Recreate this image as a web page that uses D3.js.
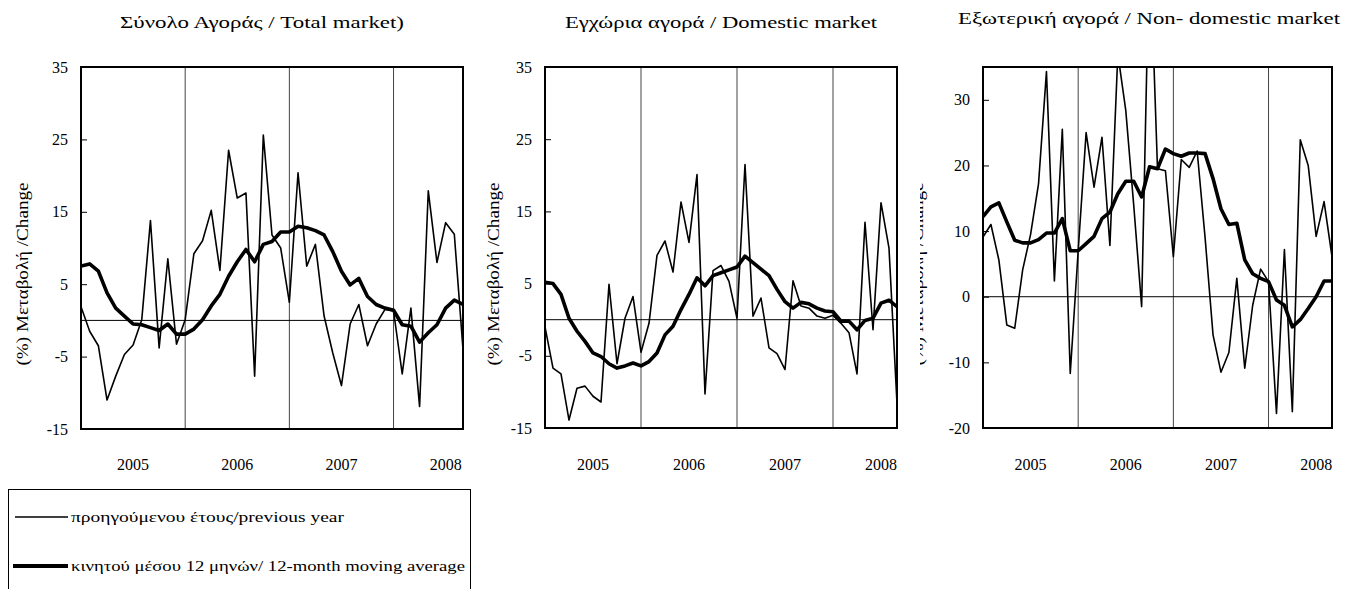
<!DOCTYPE html>
<html>
<head>
  <meta charset="utf-8">
  <script src="https://d3js.org/d3.v7.min.js"></script>
  <style>
    body { margin: 0; background: #fff; }
  </style>
</head>
<body>

<div id="chart"></div>

<script>

  // months Jan 2005 .. Sep 2008
  var years = ['2005', '2006', '2007', '2008'];
  var months = [];
  years.forEach(function(y){
    for (var m = 1; m <= 12; m++) { if (months.length < 45) months.push(y + '-' + (m < 10 ? '0' + m : m)); }
  });

  var titles = ['Σύνολο Αγοράς / Total market)', 'Εγχώρια αγορά / Domestic market', 'Εξωτερική αγορά / Non- domestic market'];
  var yLabel = '(%) Μεταβολή /Change';
  var legendLabels = ['προηγούμενου έτους/previous year', 'κινητού μέσου 12 μηνών/ 12-month moving average'];

  var ticksA = [-15, -5, 5, 15, 25, 35];
  var ticksB = [-20, -10, 0, 10, 20, 30];

  // Total market
  var totalYoY = [1.9, -1.5, -3.5, -11.0, -7.7, -4.7, -3.4, 0.1, 13.8, -3.8, 8.5, -3.3,
                  0.1, 9.2, 11.0, 15.2, 6.9, 23.5, 16.9, 17.6, -7.7, 25.6, 11.8, 10.0,
                  2.5, 20.4, 7.5, 10.5, 0.6, -4.5, -9.0, -0.5, 2.2, -3.5, -0.5, 1.5,
                  1.3, -7.4, 1.7, -11.9, 17.9, 8.0, 13.5, 11.9, -4.0];
  var totalMA = [7.5, 7.8, 6.8, 3.8, 1.7, 0.6, -0.5, -0.6, -1.0, -1.4, -0.5, -1.9,
                 -1.9, -1.2, 0.1, 2.0, 3.6, 6.1, 8.1, 9.8, 8.1, 10.5, 10.9, 12.2,
                 12.2, 13.0, 12.8, 12.4, 11.8, 9.5, 6.8, 4.9, 5.8, 3.3, 2.2, 1.7,
                 1.4, -0.6, -0.8, -3.0, -1.7, -0.6, 1.7, 2.8, 2.2];

  // Domestic market
  var domYoY = [-1.0, -6.7, -7.5, -13.9, -9.5, -9.2, -10.6, -11.4, 4.9, -6.1, 0.2, 3.2,
                -4.5, -0.5, 8.9, 10.9, 6.6, 16.3, 10.7, 20.1, -10.3, 6.8, 7.5, 5.3,
                0.2, 21.5, 0.5, 3.0, -3.9, -4.7, -6.9, 5.4, 1.9, 1.6, 0.5, 0.2,
                0.6, -0.5, -1.8, -7.5, 13.5, -1.4, 16.2, 9.9, -11.6];
  var domMA = [5.2, 5.0, 3.5, 0.2, -1.6, -3.0, -4.6, -5.1, -6.1, -6.7, -6.4, -6.0,
               -6.4, -5.8, -4.6, -2.1, -0.9, 1.4, 3.5, 5.8, 4.7, 6.1, 6.5, 6.9,
               7.3, 8.8, 7.9, 7.0, 6.1, 4.2, 2.5, 1.6, 2.4, 2.2, 1.6, 1.2,
               1.1, -0.2, -0.2, -1.4, -0.1, 0.2, 2.3, 2.7, 1.8];

  // Non-domestic market
  var nonDomYoY = [9.1, 11.0, 5.6, -4.3, -4.8, 4.1, 9.5, 17.2, 34.3, 2.4, 25.5, -11.7,
                   7.0, 25.0, 16.7, 24.3, 7.8, 37.0, 28.4, 14.0, -1.5, 55.0, 19.5, 19.2,
                   6.1, 20.9, 19.7, 22.2, 9.0, -5.8, -11.5, -8.5, 2.8, -10.9, -1.3, 4.2,
                   2.3, -17.8, 7.2, -17.5, 23.9, 20.0, 9.2, 14.5, 6.1];
  var nonDomMA = [12.2, 13.7, 14.3, 11.4, 8.6, 8.2, 8.2, 8.7, 9.7, 9.7, 11.9, 7.0,
                  7.0, 8.1, 9.2, 11.9, 12.9, 15.7, 17.6, 17.6, 15.2, 19.8, 19.5, 22.5,
                  21.8, 21.4, 21.9, 21.9, 21.8, 18.0, 13.4, 11.0, 11.2, 5.6, 3.5, 2.8,
                  2.3, -0.5, -1.3, -4.6, -3.5, -1.8, 0.0, 2.4, 2.4];

  var FONT = '"Liberation Serif", "Times New Roman", serif';

  var panels = [
    {title: titles[0], tx: 262, ty: 28, tw: 284, yoy: totalYoY, ma: totalMA, dom: [-15, 35], ticks: ticksA,
     x0: 81, x1: 463, y0: 67, y1: 429, lx: 28},
    {title: titles[1], tx: 721, ty: 28, tw: 312, yoy: domYoY, ma: domMA, dom: [-15, 35], ticks: ticksA,
     x0: 545, x1: 897, y0: 67, y1: 428, lx: 499},
    {title: titles[2], tx: 1149, ty: 24, tw: 382, yoy: nonDomYoY, ma: nonDomMA, dom: [-20, 35], ticks: ticksB,
     x0: 983, x1: 1332, y0: 67, y1: 428, lx: 923, clipLeft: 920}
  ];

  var svg = d3.select('#chart').append('svg')
    .attr('width', 1345)
    .attr('height', 589)
    .attr('font-family', FONT);

  var defs = svg.append('defs');

  panels.forEach(function(p, k){
    var x = d3.scaleLinear().domain([0, months.length - 1]).range([p.x0, p.x1]);
    var y = d3.scaleLinear().domain(p.dom).range([p.y1, p.y0]);

    var g = svg.append('g');

    if (p.clipLeft) {
      defs.append('clipPath').attr('id', 'panelclip' + k)
        .append('rect').attr('x', p.clipLeft).attr('y', 0).attr('width', 1345 - p.clipLeft).attr('height', 589);
      g.attr('clip-path', 'url(#panelclip' + k + ')');
    }

    defs.append('clipPath').attr('id', 'plotclip' + k)
      .append('rect').attr('x', p.x0).attr('y', p.y0).attr('width', p.x1 - p.x0).attr('height', p.y1 - p.y0);

    // title
    g.append('text')
      .attr('x', p.tx).attr('y', p.ty)
      .attr('text-anchor', 'middle')
      .attr('font-family', FONT).attr('font-size', 17)
      .attr('textLength', p.tw).attr('lengthAdjust', 'spacingAndGlyphs')
      .text(p.title);

    // y axis label
    g.append('text')
      .attr('transform', 'translate(' + p.lx + ',274) rotate(-90)')
      .attr('text-anchor', 'middle')
      .attr('font-family', FONT).attr('font-size', 16)
      .attr('textLength', 183).attr('lengthAdjust', 'spacingAndGlyphs')
      .text(yLabel);

    // year separators
    g.selectAll('line.year').data([12, 24, 36]).enter().append('line')
      .attr('class', 'year')
      .attr('x1', function(d){ return x(d); }).attr('x2', function(d){ return x(d); })
      .attr('y1', p.y0).attr('y2', p.y1)
      .attr('stroke', '#444').attr('stroke-width', 1);

    // zero line
    g.append('line')
      .attr('x1', p.x0).attr('x2', p.x1)
      .attr('y1', y(0)).attr('y2', y(0))
      .attr('stroke', '#000').attr('stroke-width', 1);

    // y axis, ticks pointing inward
    var axis = d3.axisRight(y).tickValues(p.ticks).tickSize(6).tickFormat('');
    g.append('g')
      .attr('transform', 'translate(' + p.x0 + ',0)')
      .call(axis)
      .call(function(a){ a.select('.domain').remove(); a.selectAll('line').attr('stroke', '#000'); });

    g.selectAll('text.ytick').data(p.ticks).enter().append('text')
      .attr('class', 'ytick')
      .attr('x', p.x0 - 13)
      .attr('y', function(d){ return y(d); })
      .attr('dy', '0.35em')
      .attr('text-anchor', 'end')
      .attr('font-family', FONT).attr('font-size', 16)
      .text(function(d){ return d; });

    // year labels, centred in each year
    g.selectAll('text.year').data(years).enter().append('text')
      .attr('class', 'year')
      .attr('x', function(d, i){ return x(i * 12 + 6); })
      .attr('y', 470)
      .attr('text-anchor', 'middle')
      .attr('font-family', FONT).attr('font-size', 16)
      .text(function(d){ return d; });

    var line = d3.line()
      .x(function(d, i){ return x(i); })
      .y(function(d){ return y(d); });

    var series = g.append('g').attr('clip-path', 'url(#plotclip' + k + ')');

    series.append('path')
      .datum(p.yoy)
      .attr('d', line)
      .attr('fill', 'none')
      .attr('stroke', '#000')
      .attr('stroke-width', 1.6)
      .attr('stroke-linejoin', 'round');

    series.append('path')
      .datum(p.ma)
      .attr('d', line)
      .attr('fill', 'none')
      .attr('stroke', '#000')
      .attr('stroke-width', 3.6)
      .attr('stroke-linejoin', 'round');

    // plot frame
    g.append('rect')
      .attr('x', p.x0).attr('y', p.y0)
      .attr('width', p.x1 - p.x0).attr('height', p.y1 - p.y0)
      .attr('fill', 'none')
      .attr('stroke', '#000')
      .attr('stroke-width', 2);
  });

  // legend
  var legend = svg.append('g');

  legend.append('rect')
    .attr('x', 8.5).attr('y', 489.5)
    .attr('width', 462).attr('height', 120)
    .attr('fill', 'none').attr('stroke', '#000').attr('stroke-width', 1);

  var legendRows = legend.selectAll('g.row').data(legendLabels).enter().append('g')
    .attr('class', 'row')
    .attr('transform', function(d, i){ return 'translate(0,' + (517 + i * 49) + ')'; });

  legendRows.append('line')
    .attr('x1', function(d, i){ return i ? 13 : 15; }).attr('x2', 68)
    .attr('y1', 0).attr('y2', 0)
    .attr('stroke', '#000')
    .attr('stroke-width', function(d, i){ return i ? 4 : 1.4; });

  legendRows.append('text')
    .attr('x', 71).attr('y', 0)
    .attr('dy', '0.32em')
    .attr('font-family', FONT).attr('font-size', 15)
    .attr('textLength', function(d, i){ return i ? 394 : 273; })
    .attr('lengthAdjust', 'spacingAndGlyphs')
    .text(function(d){ return d; });

</script>

</body>
</html>
